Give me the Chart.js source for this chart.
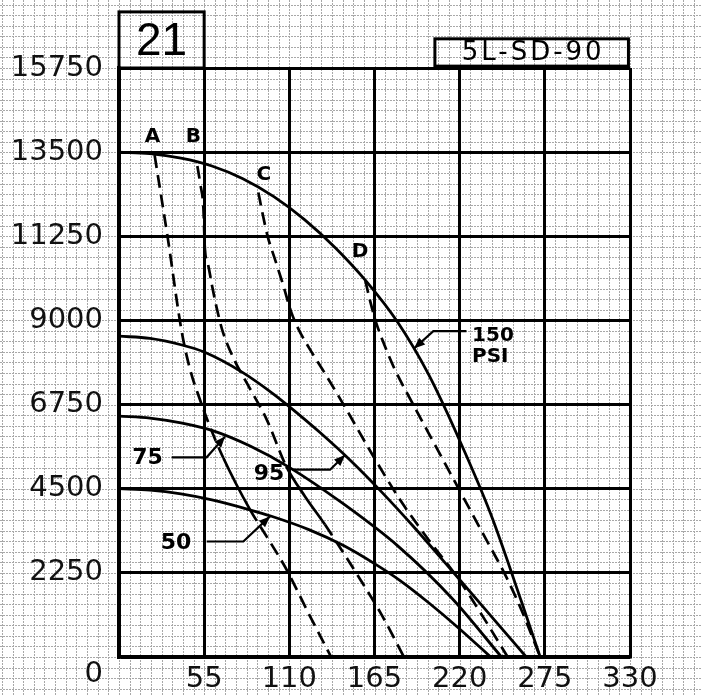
<!DOCTYPE html>
<html><head><meta charset="utf-8">
<script src="https://cdn.jsdelivr.net/npm/chart.js@4.4.1/dist/chart.umd.min.js"></script>
<style>html,body{margin:0;padding:0;background:#fff}canvas{display:block}</style>
</head><body>
<canvas id="c" width="702" height="695"></canvas>
<script>
// ---- axis ticks ----
const xTickLabels = ['', '55', '110', '165', '220', '275', '330'];
const yTickLabels = ['0', '2250', '4500', '6750', '9000', '11250', '13500', '15750'];

// ---- solid pressure curves ----
const psi150X = [0, 20, 40, 60, 80, 100, 120, 140, 160, 180, 200, 220, 240, 260, 272];
const psi150Y = [13500, 13460, 13340, 13130, 12790, 12310, 11690, 10930, 10030, 8950, 7550, 5790, 3830, 1470, 0];
const psi95X = [0, 20, 40, 55, 80, 100, 110, 130, 150, 170, 190, 216, 240, 263];
const psi95Y = [8580, 8520, 8350, 8155, 7605, 7025, 6695, 5995, 5235, 4395, 3495, 2260, 1108, 0];
const psi75X = [0, 20, 40, 60, 85, 110, 145, 180, 215, 247];
const psi75Y = [6440, 6390, 6260, 6060, 5635, 5072, 4092, 2972, 1572, 0];
const psi50X = [0, 20, 40, 60, 85, 98, 123, 145, 166, 182, 200, 220, 240];
const psi50Y = [4500, 4460, 4360, 4200, 3930, 3770, 3400, 2980, 2470, 2030, 1450, 750, 0];

// ---- dashed curves A-D ----
const curveAX = [23, 31.5, 40.5, 45.9, 52.3, 57.7, 67.4, 84.6, 95.4, 108.3, 122, 137];
const curveAY = [13420, 11200, 8700, 7690, 6880, 6270, 5320, 3940, 3220, 2330, 1200, 0];
const curveBX = [50.6, 52.5, 54.5, 55.5, 57.5, 60, 63, 67, 75, 82.5, 95.4, 108, 120, 133, 156, 170, 184];
const curveBY = [13130, 12650, 12000, 10900, 10500, 9950, 9350, 8700, 7900, 7330, 6348, 5100, 4300, 3540, 2060, 1100, 0];
const curveCX = [90, 93, 96, 101, 106, 111, 116, 124, 132, 145, 163, 181.5, 200, 219, 235, 251];
const curveCY = [12420, 11800, 11250, 10600, 9950, 9250, 8760, 8180, 7650, 6750, 5456, 4205, 3130, 2100, 1080, 0];
const curveDX = [159, 162, 166, 172, 178, 190, 205, 220, 237, 250, 261, 272];
const curveDY = [10080, 9550, 8950, 8280, 7700, 6750, 5600, 4450, 3150, 2150, 1150, 0];
// x ranges where the printed A and B lines run unbroken
const curveASolidRange = [67, 85];
const curveBSolidRange = [108, 133];

// ---- annotations (data units) ----
const letterNames = ['A', 'B', 'C', 'D'];
const letterX = [21.6, 48, 93.6, 155.6];
const letterY = [13900, 13900, 12900, 10830];
const psiNames = ['75', '95', '50'];
const psiLabelX = [18.4, 96.9, 36.8];
const psiLabelY = [5304, 4875, 3054];
const psi150Lines = ['150', 'PSI'];
const psi150LabelX = 228;
const psi150LabelY = [8600, 8020];
const pointers = [
  [[224.4, 8714], [203, 8714], [190.5, 8250]],
  [[34, 5339], [56.6, 5339], [68.5, 5893]],
  [[111.7, 5009], [136.3, 5009], [146, 5400]],
  [[56.6, 3088], [80.3, 3088], [97.5, 3760]]
];
const chartNumber = '21';
const numberBoxX = [0, 55];
const numberBoxY = [15750, 17250];
const modelName = '5L-SD-90';
const modelBoxX = [204, 329];
const modelBoxY = [15800, 16530];
const minorDivisions = 8;

function pts(xs, ys) { return xs.map((x, i) => ({ x: x, y: ys[i] })); }

const paperPlugin = {
  id: 'paper',
  beforeDraw(chart) {
    const { ctx, width, height } = chart;
    const xs = chart.scales.x, ys = chart.scales.y;
    ctx.save();
    ctx.fillStyle = '#fff';
    ctx.fillRect(0, 0, width, height);
    const x0 = xs.getPixelForValue(0), y0 = ys.getPixelForValue(0);
    const dx = xs.getPixelForValue(55 / minorDivisions) - x0;
    const dy = y0 - ys.getPixelForValue(2250 / minorDivisions);
    ctx.strokeStyle = '#a8a8a8';
    ctx.lineWidth = 1;
    ctx.setLineDash([2, 1]);
    ctx.beginPath();
    for (let k = Math.ceil(-x0 / dx); x0 + k * dx <= width; k++) {
      const p = Math.round(x0 + k * dx) + 0.5;
      ctx.moveTo(p, 0); ctx.lineTo(p, height);
    }
    for (let k = Math.ceil((y0 - height) / dy); y0 - k * dy >= 0; k++) {
      const p = Math.round(y0 - k * dy) + 0.5;
      ctx.moveTo(0, p); ctx.lineTo(width, p);
    }
    ctx.stroke();
    ctx.restore();
  }
};

function arrowHead(ctx, fx, fy, tx, ty) {
  const a = Math.atan2(ty - fy, tx - fx), L = 11, W = 4.5;
  ctx.beginPath();
  ctx.moveTo(tx, ty);
  ctx.lineTo(tx - L * Math.cos(a) + W * Math.sin(a), ty - L * Math.sin(a) - W * Math.cos(a));
  ctx.lineTo(tx - L * Math.cos(a) - W * Math.sin(a), ty - L * Math.sin(a) + W * Math.cos(a));
  ctx.closePath();
  ctx.fill();
}

const notesPlugin = {
  id: 'notes',
  afterDatasetsDraw(chart) {
    const { ctx } = chart;
    const xs = chart.scales.x, ys = chart.scales.y;
    const px = v => xs.getPixelForValue(v), py = v => ys.getPixelForValue(v);
    ctx.save();
    ctx.strokeStyle = '#000'; ctx.fillStyle = '#000';
    ctx.lineWidth = 2.2; ctx.setLineDash([]);
    pointers.forEach(p => {
      ctx.beginPath();
      ctx.moveTo(px(p[0][0]), py(p[0][1]));
      ctx.lineTo(px(p[1][0]), py(p[1][1]));
      ctx.lineTo(px(p[2][0]), py(p[2][1]));
      ctx.stroke();
      arrowHead(ctx, px(p[1][0]), py(p[1][1]), px(p[2][0]), py(p[2][1]));
    });
    ctx.textAlign = 'center'; ctx.textBaseline = 'middle';
    ctx.font = 'bold 20px "DejaVu Sans"';
    letterNames.forEach((t, i) => ctx.fillText(t, px(letterX[i]), py(letterY[i])));
    ctx.font = 'bold 22px "DejaVu Sans"';
    psiNames.forEach((t, i) => ctx.fillText(t, px(psiLabelX[i]), py(psiLabelY[i])));
    ctx.textAlign = 'left';
    ctx.font = 'bold 20px "DejaVu Sans"';
    psi150Lines.forEach((t, i) => ctx.fillText(t, px(psi150LabelX), py(psi150LabelY[i])));
    ctx.restore();
  },
  afterDraw(chart) {
    const { ctx } = chart;
    const xs = chart.scales.x, ys = chart.scales.y;
    const px = v => xs.getPixelForValue(v), py = v => ys.getPixelForValue(v);
    ctx.save();
    ctx.strokeStyle = '#000'; ctx.fillStyle = '#000';
    ctx.lineWidth = 3; ctx.setLineDash([]);
    ctx.strokeRect(px(numberBoxX[0]), py(numberBoxY[1]), px(numberBoxX[1]) - px(numberBoxX[0]), py(numberBoxY[0]) - py(numberBoxY[1]));
    ctx.strokeRect(px(modelBoxX[0]), py(modelBoxY[1]), px(modelBoxX[1]) - px(modelBoxX[0]), py(modelBoxY[0]) - py(modelBoxY[1]));
    ctx.textAlign = 'center'; ctx.textBaseline = 'middle';
    ctx.font = '46px "Liberation Sans"';
    ctx.fillText(chartNumber, (px(numberBoxX[0]) + px(numberBoxX[1])) / 2, (py(numberBoxY[0]) + py(numberBoxY[1])) / 2 + 2);
    ctx.font = '26px "DejaVu Sans"';
    try { ctx.letterSpacing = '3px'; } catch (e) {}
    ctx.fillText(modelName, (px(modelBoxX[0]) + px(modelBoxX[1])) / 2 + 1.5, (py(modelBoxY[0]) + py(modelBoxY[1])) / 2 + 1);
    ctx.restore();
  }
};

const solid = { borderColor: '#000', borderWidth: 2.8, pointRadius: 0, fill: false, cubicInterpolationMode: 'monotone' };
const dashPattern = [13, 7];
function dashedWithSolid(range) {
  return Object.assign({}, solid, {
    borderWidth: 2.7,
    borderDash: dashPattern,
    segment: {
      borderDash: c => (range && c.p0.parsed.x >= range[0] && c.p1.parsed.x <= range[1]) ? [] : dashPattern
    }
  });
}

new Chart(document.getElementById('c'), {
  type: 'line',
  data: {
    datasets: [
      Object.assign({ label: '150 PSI', data: pts(psi150X, psi150Y) }, solid),
      Object.assign({ label: '95 PSI', data: pts(psi95X, psi95Y) }, solid),
      Object.assign({ label: '75 PSI', data: pts(psi75X, psi75Y) }, solid),
      Object.assign({ label: '50 PSI', data: pts(psi50X, psi50Y) }, solid),
      Object.assign({ label: 'A', data: pts(curveAX, curveAY) }, dashedWithSolid(curveASolidRange)),
      Object.assign({ label: 'B', data: pts(curveBX, curveBY) }, dashedWithSolid(curveBSolidRange)),
      Object.assign({ label: 'C', data: pts(curveCX, curveCY) }, dashedWithSolid(null)),
      Object.assign({ label: 'D', data: pts(curveDX, curveDY) }, dashedWithSolid(null))
    ]
  },
  options: {
    responsive: false,
    animation: false,
    events: [],
    layout: { padding: { top: 68, right: 72, left: 0, bottom: 0 } },
    plugins: { legend: { display: false }, tooltip: { enabled: false } },
    scales: {
      x: {
        type: 'linear', min: 0, max: 330,
        afterFit: s => { s.height = 38; s.paddingLeft = 0; s.paddingRight = 0; },
        grid: { color: '#000', lineWidth: 3, drawTicks: false },
        border: { display: true, color: '#000', width: 3.5 },
        ticks: { stepSize: 55, autoSkip: false, maxRotation: 0, padding: 5, color: '#111',
          font: { family: 'DejaVu Sans', size: 29 },
          callback: (v, i) => xTickLabels[i] }
      },
      y: {
        type: 'linear', min: 0, max: 15750,
        afterFit: s => { s.width = 119; s.paddingBottom = 0; s.paddingTop = 0; },
        grid: { color: '#000', lineWidth: 3, drawTicks: false },
        border: { display: true, color: '#000', width: 3.5 },
        ticks: { stepSize: 2250, autoSkip: false, padding: 16, color: '#111',
          font: { family: 'DejaVu Sans', size: 29 },
          callback: (v, i) => i === 0 ? ['', yTickLabels[0]] : yTickLabels[i] }
      }
    }
  },
  plugins: [paperPlugin, notesPlugin]
});
</script>
</body></html>
